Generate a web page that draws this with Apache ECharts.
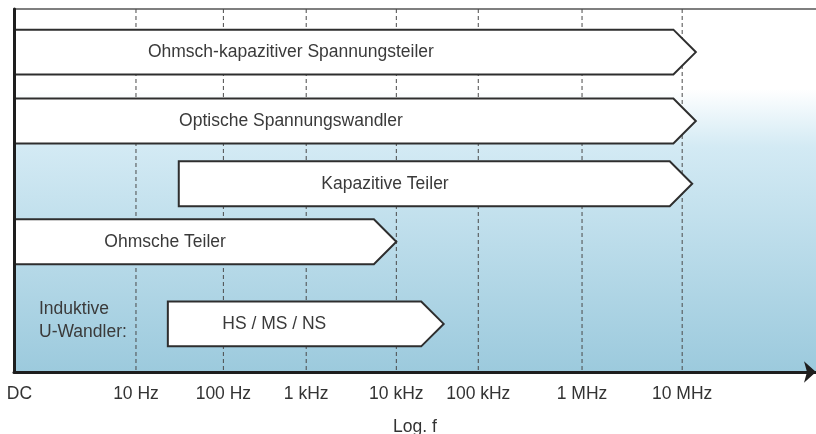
<!DOCTYPE html>
<html>
<head>
<meta charset="utf-8">
<script src="https://cdn.jsdelivr.net/npm/echarts@6/dist/echarts.min.js"></script>
<style>
  html, body { margin: 0; padding: 0; background: #fff; }
  #main { width: 816px; height: 434px; }
</style>
</head>
<body>
<div id="main"></div>
<script>
// x axis is in "decade" units as drawn (10 Hz = 1 ... 10 MHz = 7), DC sits left of the scale
var XMIN = -0.34, XMAX = 8.47;
var tickLabels = ['DC', '10 Hz', '100 Hz', '1 kHz', '10 kHz', '100 kHz', '1 MHz', '10 MHz'];
var tickPos = [-0.28, 1, 1.96, 2.87, 3.86, 4.76, 5.9, 7];

// frequency ranges
var rangeNames = ['Ohmsch-kapazitiver Spannungsteiler', 'Optische Spannungswandler', 'Kapazitive Teiler', 'Ohmsche Teiler', 'HS / MS / NS'];
var rangeStart = [XMIN, XMIN, 1.47, XMIN, 1.35];
var rangeEnd = [7.15, 7.15, 7.11, 3.86, 4.38];
var rangeLane = [0.95, 2.47, 3.85, 5.13, 6.94];

var FONT = 'Liberation Sans';
var FS = 17.5;

var mChart = echarts.init(document.getElementById('main'));

var data = [];
for (var i = 0; i < rangeNames.length; i++) {
    data.push([rangeStart[i], rangeEnd[i], rangeLane[i], rangeNames[i]]);
}

function renderArrow(params, api) {
    var p0 = api.coord([api.value(0), api.value(2)]);
    var p1 = api.coord([api.value(1), api.value(2)]);
    var h = api.size([0, 1])[1] * 0.99;
    var d = h / 2;
    var top = p0[1] - h / 2, bot = p0[1] + h / 2;
    var bodyEnd = p1[0] - d;
    var textX = p0[0] + (bodyEnd - p0[0]) * 0.42;
    return {
        type: 'group',
        children: [{
            type: 'polygon',
            shape: {points: [[p0[0], top], [bodyEnd, top], [p1[0], p0[1]], [bodyEnd, bot], [p0[0], bot]]},
            style: {fill: '#ffffff', stroke: '#2e2e2e', lineWidth: 2, lineJoin: 'miter'}
        }, {
            type: 'text',
            x: textX,
            y: p0[1],
            style: {
                text: api.value(3),
                fill: '#3a3a3a',
                font: FS + 'px "' + FONT + '"',
                align: 'center',
                verticalAlign: 'middle'
            }
        }]
    };
}

// dashed vertical guide at each decade
function renderGuide(params, api) {
    var a = api.coord([api.value(0), 0]);
    var b = api.coord([api.value(0), 8]);
    return {
        type: 'line',
        shape: {x1: a[0], y1: a[1], x2: b[0], y2: b[1]},
        style: {stroke: '#4a4a4a', lineWidth: 1, lineDash: [4, 3]}
    };
}

var option = {
    animation: false,
    grid: {
        left: 14, right: 0, top: 9, bottom: 62,
        outerBoundsMode: 'none',
        containLabel: false,
        show: true,
        borderWidth: 0,
        backgroundColor: {
            type: 'linear', x: 0, y: 0, x2: 0, y2: 1,
            colorStops: [
                {offset: 0, color: '#ffffff'},
                {offset: 0.22, color: '#ffffff'},
                {offset: 0.38, color: '#d3eaf4'},
                {offset: 1, color: '#9ccadd'}
            ]
        }
    },
    xAxis: [{
        type: 'value',
        min: XMIN,
        max: XMAX,
        z: 5,
        splitLine: {show: false},
        axisTick: {show: false},
        axisLine: {
            show: true,
            onZero: false,
            symbol: ['none', 'arrow'],
            symbolSize: [16, 12],
            lineStyle: {color: '#1e1e1e', width: 3}
        },
        axisLabel: {
            customValues: tickPos,
            margin: 13,
            color: '#333',
            fontFamily: FONT,
            fontSize: FS,
            formatter: function (v) {
                var k = tickPos.indexOf(v);
                return k >= 0 ? tickLabels[k] : '';
            }
        },
        name: 'Log. f',
        nameLocation: 'middle',
        nameGap: 46,
        nameTextStyle: {color: '#333', fontFamily: FONT, fontSize: FS}
    }, {
        type: 'value',
        position: 'top',
        min: XMIN,
        max: XMAX,
        axisLabel: {show: false},
        axisTick: {show: false},
        splitLine: {show: false},
        axisLine: {show: true, onZero: false, lineStyle: {color: '#555', width: 1.5}}
    }],
    yAxis: {
        type: 'value',
        inverse: true,
        min: 0,
        max: 8,
        z: 5,
        axisLabel: {show: false},
        axisTick: {show: false},
        splitLine: {show: false},
        axisLine: {show: true, onZero: false, lineStyle: {color: '#1e1e1e', width: 3}}
    },
    graphic: [{
        type: 'text',
        left: 39,
        top: 298,
        style: {
            text: 'Induktive\nU-Wandler:',
            fill: '#3a3a3a',
            font: FS + 'px "' + FONT + '"',
            lineHeight: 23
        }
    }],
    series: [{
        type: 'custom',
        z: 1,
        silent: true,
        renderItem: renderGuide,
        data: tickPos.slice(1)
    }, {
        type: 'custom',
        z: 2,
        renderItem: renderArrow,
        data: data
    }]
};
mChart.setOption(option);
</script>
</body>
</html>
